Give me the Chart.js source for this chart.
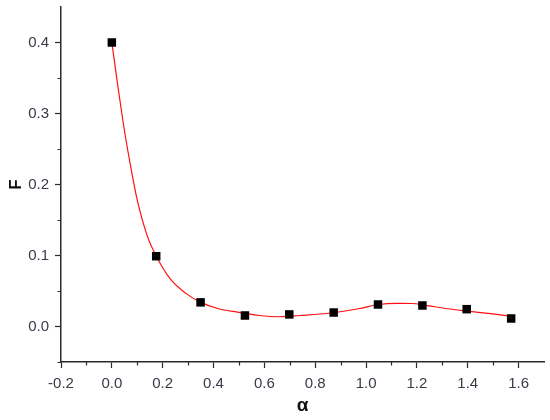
<!DOCTYPE html>
<html>
<head>
<meta charset="utf-8">
<script src="https://cdn.jsdelivr.net/npm/chart.js@4"></script>
<style>
  body { margin: 0; background: #fff; }
  #wrap { width: 550px; height: 420px; }
</style>
</head>
<body>
<div id="wrap"><canvas id="myChart"></canvas></div>
<script>
// measured points
var alphaVals = [0.0, 0.1745, 0.349, 0.5236, 0.698, 0.8727, 1.047, 1.2217, 1.396, 1.5708];
var fVals = [0.400, 0.099, 0.034, 0.0155, 0.017, 0.0197, 0.031, 0.0296, 0.0244, 0.0113];

// red fitted curve
var curveX = [0.0, 0.02, 0.05, 0.08, 0.10, 0.14, 0.175, 0.23, 0.29, 0.35, 0.42, 0.50, 0.58, 0.66, 0.74, 0.86, 0.97, 1.05, 1.12, 1.18, 1.24, 1.32, 1.40, 1.49, 1.57];
var curveY = [0.400, 0.348, 0.275, 0.214, 0.178, 0.127, 0.099, 0.067, 0.047, 0.034, 0.025, 0.020, 0.0155, 0.0137, 0.0155, 0.019, 0.025, 0.031, 0.0325, 0.0324, 0.0295, 0.025, 0.0216, 0.018, 0.0145];

// axis ticks
var xTicks = [-0.2, 0.0, 0.2, 0.4, 0.6, 0.8, 1.0, 1.2, 1.4, 1.6];
var xMinor = [-0.1, 0.1, 0.3, 0.5, 0.7, 0.9, 1.1, 1.3, 1.5];
var yTicks = [0.0, 0.1, 0.2, 0.3, 0.4];
var yMinor = [-0.05, 0.05, 0.15, 0.25, 0.35];

var axisColor = "#2b2b2b";
var labelColor = "#3a3a48";

// short minor ticks on the outer side of both axes
var minorTicks = {
  id: "minorTicks",
  afterDraw: function (chart) {
    var ctx = chart.ctx;
    var xs = chart.scales.x;
    var ys = chart.scales.y;
    ctx.save();
    ctx.strokeStyle = axisColor;
    ctx.lineWidth = 1.2;
    ctx.beginPath();
    xMinor.forEach(function (v) {
      var px = Math.round(xs.getPixelForValue(v)) + 0.5;
      ctx.moveTo(px, xs.top);
      ctx.lineTo(px, xs.top + 3.5);
    });
    yMinor.forEach(function (v) {
      var py = Math.round(ys.getPixelForValue(v)) + 0.5;
      ctx.moveTo(ys.right, py);
      ctx.lineTo(ys.right - 3.5, py);
    });
    ctx.stroke();
    ctx.restore();
  },
};

var markerData = alphaVals.map(function (a, i) { return { x: a, y: fVals[i] }; });
var curveData = curveX.map(function (a, i) { return { x: a, y: curveY[i] }; });

const ctx = document.getElementById("myChart").getContext("2d");
new Chart(ctx, {
  type: "scatter",
  data: {
    datasets: [
      {
        label: "F",
        data: markerData,
        pointStyle: "rect",
        pointRadius: 6,
        pointHoverRadius: 6,
        backgroundColor: "#000",
        borderColor: "#000",
        borderWidth: 0,
        showLine: false,
      },
      {
        label: "fit",
        data: curveData,
        showLine: true,
        borderColor: "#ff1010",
        borderWidth: 1.2,
        pointRadius: 0,
        cubicInterpolationMode: "monotone",
        fill: false,
      },
    ],
  },
  options: {
    responsive: true,
    maintainAspectRatio: false,
    animation: false,
    layout: { padding: { left: 0, right: 1, top: 7, bottom: 0 } },
    plugins: {
      legend: { display: false },
      tooltip: { enabled: false },
    },
    scales: {
      x: {
        type: "linear",
        min: -0.2,
        max: 1.7,
        afterBuildTicks: function (scale) {
          scale.ticks = xTicks.map(function (v) { return { value: v }; });
        },
        afterFit: function (scale) { scale.height = 58; },
        grid: { drawOnChartArea: false, color: axisColor, tickLength: 6, tickWidth: 1.2 },
        border: { color: axisColor, width: 1.5 },
        ticks: {
          color: labelColor,
          padding: 7,
          maxRotation: 0,
          font: { family: "Liberation Sans", size: 15 },
          callback: function (v) { return Number(v).toFixed(1); },
        },
        title: {
          display: true,
          text: "α",
          color: "#111",
          font: { family: "Liberation Sans", size: 19, weight: "bold" },
          padding: { top: 0, bottom: 3 },
        },
      },
      y: {
        type: "linear",
        min: -0.05,
        max: 0.45,
        afterBuildTicks: function (scale) {
          scale.ticks = yTicks.map(function (v) { return { value: v }; });
        },
        afterFit: function (scale) {
          scale.width = 61;
          scale.paddingTop = 0;
          scale.paddingBottom = 0;
        },
        grid: { drawOnChartArea: false, color: axisColor, tickLength: 6, tickWidth: 1.2 },
        border: { color: axisColor, width: 1.5 },
        ticks: {
          color: labelColor,
          padding: 6,
          font: { family: "Liberation Sans", size: 15 },
          callback: function (v) { return Number(v).toFixed(1); },
        },
        title: {
          display: true,
          text: "F",
          color: "#111",
          font: { family: "Liberation Sans", size: 17, weight: "bold" },
          padding: { top: 6, bottom: 0 },
        },
      },
    },
  },
  plugins: [minorTicks],
});
</script>
</body>
</html>
